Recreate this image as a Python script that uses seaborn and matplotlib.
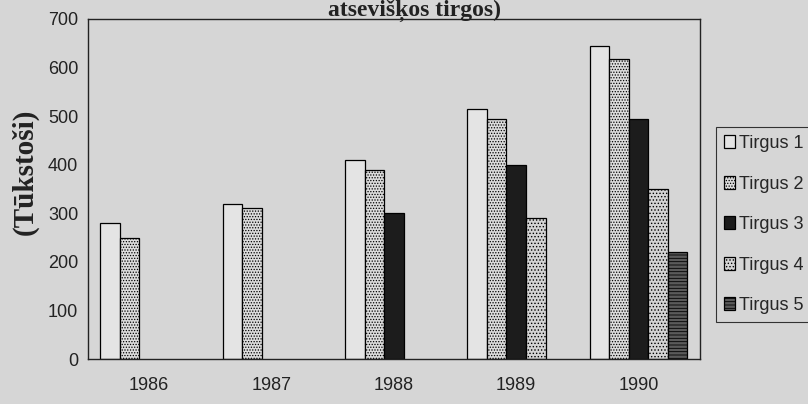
import matplotlib
matplotlib.use("Agg")
import matplotlib.pyplot as plt
import numpy as np
import pandas as pd
import seaborn as sns

years = ["1986", "1987", "1988", "1989", "1990"]
markets = ["Tirgus 1", "Tirgus 2", "Tirgus 3", "Tirgus 4", "Tirgus 5"]
tirgus_1 = [280, 320, 410, 515, 645]
tirgus_2 = [250, 312, 390, 495, 618]
tirgus_3 = [None, None, 300, 400, 495]
tirgus_4 = [None, None, None, 290, 350]
tirgus_5 = [None, None, None, None, 220]
y_ticks = [0, 100, 200, 300, 400, 500, 600, 700]

rows = []
for name, vals in zip(markets, [tirgus_1, tirgus_2, tirgus_3, tirgus_4, tirgus_5]):
    for yr, v in zip(years, vals):
        if v is not None:
            rows.append({"year": yr, "market": name, "value": v})
df = pd.DataFrame(rows)

bg = "#d6d6d6"
sns.set_style("white")
plt.rcParams["font.family"] = ["Liberation Sans", "DejaVu Sans"]
plt.rcParams["hatch.linewidth"] = 0.6

fig = plt.figure(figsize=(8.08, 4.04), dpi=100, facecolor=bg)
ax = fig.add_axes([0.109, 0.111, 0.757, 0.842])
ax.set_facecolor(bg)

faces = ["#e4e4e4", "#dcdcdc", "#1c1c1c", "#d4d4d4", "#5a5a5a"]
hatches = [None, "......", None, ".....", "-----"]

sns.barplot(data=df, x="year", y="value", hue="market", order=years, hue_order=markets,
            palette=faces, saturation=1, width=0.8, edgecolor="black", linewidth=0.9, ax=ax)

for cont, h in zip(ax.containers, hatches):
    for p in cont.patches:
        if h:
            p.set_hatch(h)

if ax.legend_ is not None:
    ax.legend_.remove()

ax.set_ylim(0, 700)
ax.set_xlim(-0.5, 4.5)
ax.set_yticks(y_ticks)
ax.set_xlabel("")
ax.set_ylabel("")
for s in ax.spines.values():
    s.set_visible(True)
    s.set_color("#222222")
    s.set_linewidth(1.0)

ax.tick_params(axis="y", direction="out", length=5, width=0.9, labelsize=13, pad=2, colors="#222222")
ax.tick_params(axis="x", which="major", length=0, labelsize=13, pad=13, colors="#222222")
ax.set_xticks(np.arange(-0.5, 5, 1), minor=True)
ax.tick_params(axis="x", which="minor", direction="out", length=5, width=0.9, color="#222222")

fig.text(25 / 808, 1 - 172 / 404, "(Tūkstoši)", rotation=90, ha="center", va="center",
         fontsize=21, fontweight="bold", family=["Liberation Serif", "DejaVu Serif"], color="#222222")
fig.text(415 / 808, 1 - 16 / 404, "atsevišķos tirgos)", ha="center", va="baseline",
         fontsize=17, fontweight="bold", family=["Liberation Serif", "DejaVu Serif"], color="#222222")

leg = fig.legend(ax.containers, markets, loc="upper left", bbox_to_anchor=(716 / 808, 1 - 127 / 404),
                 borderaxespad=0, fontsize=13, frameon=True, fancybox=False, facecolor=bg,
                 edgecolor="#333333", framealpha=1, handlelength=0.6, handleheight=0.75,
                 handletextpad=0.2, labelspacing=1.3, borderpad=0.45)
leg.get_frame().set_linewidth(0.8)

fig.savefig("out.png", dpi=100, facecolor=bg)
